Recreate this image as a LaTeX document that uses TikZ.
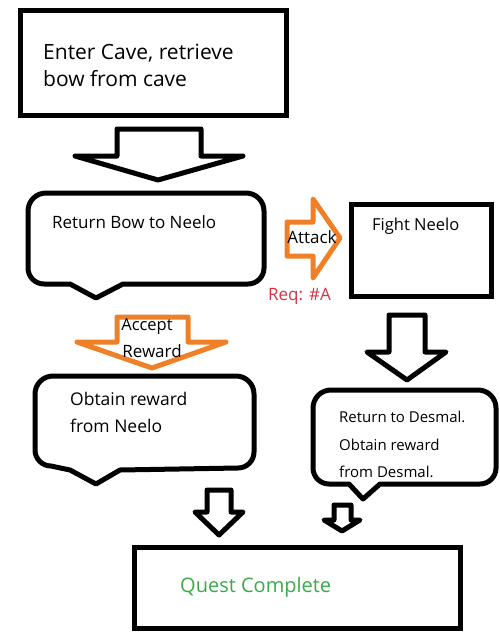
\documentclass[tikz,border=0pt]{standalone}
\usepackage{fontspec}
\setmainfont{Open Sans}
\definecolor{orangeline}{RGB}{240,128,40}
\definecolor{reqred}{RGB}{210,50,70}
\definecolor{donegreen}{RGB}{60,170,75}
\begin{document}
\begin{tikzpicture}[x=1pt,y=1pt,
  box/.style={draw=black,line width=5pt,fill=white},
  blockarrow/.style={draw=black,line width=5pt,fill=white,line join=round},
  orangearrow/.style={draw=orangeline,line width=5pt,fill=white,line join=round},
  callout/.style={draw=black,line width=5pt,fill=white,line join=round},
  lbl/.style={inner sep=0pt,anchor=base west,font=\fontsize{15}{18}\selectfont}]
\useasboundingbox[fill=white] (0,0) rectangle (500,-637);

% top box
\draw[box] (20,-10) rectangle (286,-115);
\node[lbl,font=\fontsize{21}{24}\selectfont] (t1) at (43,-59) {Enter Cave, retrieve};
\node[lbl,font=\fontsize{21}{24}\selectfont] (t2) at (43,-86) {bow from cave};

% big arrow 1
\draw[blockarrow] (117,-129) -- (201,-129) -- (201,-156) -- (243,-156) -- (158,-180) -- (75,-156) -- (117,-156) -- cycle;

% Return bow callout
\draw[callout] (70,-284) -- (96,-298) -- (123,-284) -- (248,-284) arc[start angle=-90,end angle=0,radius=16] -- (264,-211) arc[start angle=0,end angle=90,radius=18] -- (46,-193) arc[start angle=90,end angle=180,radius=18] -- (28,-268) arc[start angle=180,end angle=270,radius=16] -- cycle;
\node[lbl,font=\fontsize{17}{20}\selectfont] (rb) at (52,-228) {Return Bow to Neelo};

% Attack arrow
\draw[orangearrow] (287,-222) -- (313,-222) -- (313,-199) -- (340,-238) -- (313,-278) -- (313,-256) -- (287,-256) -- cycle;
\node[lbl,anchor=base,font=\fontsize{17}{20}\selectfont] (att) at (312,-243) {Attack};
\node[lbl,font=\fontsize{17}{20}\selectfont,text=reqred] (req) at (268,-300) {Req: \#A};

% Fight Neelo box
\draw[box] (351,-204) rectangle (491,-296);
\node[lbl,font=\fontsize{16.5}{19}\selectfont] (fn) at (372,-230) {Fight Neelo};

% Accept reward arrow
\draw[orangearrow] (117,-317) -- (188,-317) -- (188,-342) -- (226,-342) -- (152,-368) -- (77,-342) -- (117,-342) -- cycle;
\node[lbl,anchor=base,font=\fontsize{16.5}{19}\selectfont] (acc) at (147,-330) {Accept};
\node[lbl,anchor=base,font=\fontsize{17}{20}\selectfont] (rew) at (152,-357) {Reward};

% black arrow right
\draw[blockarrow] (389,-315) -- (425,-315) -- (425,-352) -- (446,-352) -- (407,-380) -- (367,-352) -- (389,-352) -- cycle;

% Obtain reward callout
\draw[callout] (70,-470) -- (96,-484) -- (120,-470) -- (238,-468) arc[start angle=-90,end angle=0,radius=16] -- (254,-394) arc[start angle=0,end angle=90,radius=18] -- (53,-376) arc[start angle=90,end angle=180,radius=18] -- (35,-450) arc[start angle=180,end angle=270,radius=16] -- cycle;
\node[lbl,font=\fontsize{17.5}{20}\selectfont] (ob1) at (70,-405) {Obtain reward};
\node[lbl,font=\fontsize{17.5}{20}\selectfont] (ob2) at (70,-432) {from Neelo};

% Desmal callout
\draw[callout] (349,-484) -- (363,-499) -- (380,-484) -- (480,-484) arc[start angle=-90,end angle=0,radius=16] -- (496,-408) arc[start angle=0,end angle=90,radius=18] -- (331,-390) arc[start angle=90,end angle=180,radius=18] -- (313,-468) arc[start angle=180,end angle=270,radius=16] -- cycle;
\node[lbl] (d1) at (339,-422) {Return to Desmal.};
\node[lbl] (d2) at (339,-450) {Obtain reward};
\node[lbl] (d3) at (339,-477) {from Desmal.};

% small arrows
\draw[blockarrow] (207,-490) -- (231,-490) -- (231,-512) -- (243,-512) -- (219,-535) -- (195,-512) -- (207,-512) -- cycle;
\draw[blockarrow] (334,-505) -- (351,-505) -- (351,-520) -- (360,-520) -- (342,-531) -- (324,-520) -- (334,-520) -- cycle;

% Quest complete box
\draw[box] (134,-547) rectangle (460,-628);
\node[lbl,font=\fontsize{20}{23}\selectfont,text=donegreen] (qc) at (180,-592) {Quest Complete};
\end{tikzpicture}
\end{document}
